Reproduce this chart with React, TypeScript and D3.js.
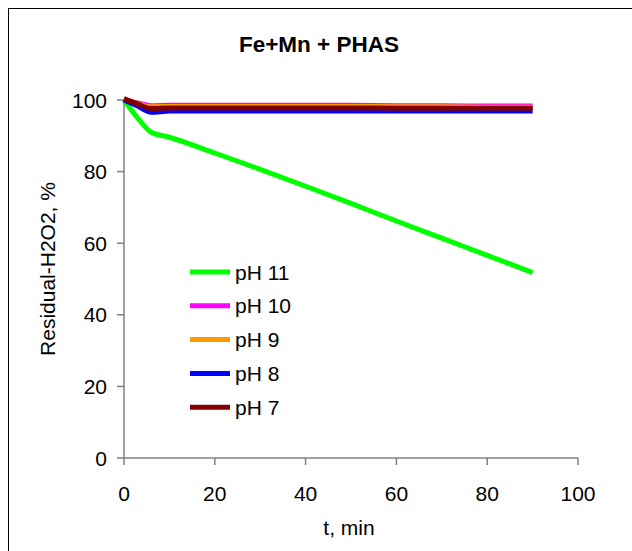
import React, { useEffect } from "react";
import * as d3 from "d3";

const times = [0, 3, 6, 10, 20, 30, 40, 50, 60, 70, 80, 90];
const seriesNames = ["pH 11", "pH 10", "pH 9", "pH 8", "pH 7"];
const seriesColors = ["#00ff00", "#ff00ff", "#ff9900", "#0000ff", "#800000"];
const pH11 = [100, 95, 91, 89.6, 85.2, 80.6, 75.9, 71.1, 66.2, 61.4, 56.6, 51.8];
const pH10 = [100, 99.2, 98.4, 98.5, 98.5, 98.5, 98.5, 98.5, 98.4, 98.4, 98.3, 98.3];
const pH9 = [100, 99, 98.1, 98.2, 98.2, 98.2, 98.2, 98.2, 98.1, 98.1, 98.0, 98.0];
const pH8 = [100, 98.3, 96.6, 96.9, 96.9, 96.9, 96.9, 96.9, 96.9, 96.9, 96.9, 96.9];
const pH7 = [100.4, 98.9, 97.6, 97.8, 97.8, 97.8, 97.8, 97.8, 97.7, 97.7, 97.7, 97.7];
const seriesValues = [pH11, pH10, pH9, pH8, pH7];
const xTicks = [0, 20, 40, 60, 80, 100];
const yTicks = [0, 20, 40, 60, 80, 100];
const title = "Fe+Mn + PHAS";
const xTitle = "t, min";
const yTitle = "Residual-H2O2, %";

export default function App() {
  useEffect(() => {
    document.body.style.margin = "0";
    document.body.style.overflow = "hidden";
  }, []);
  const W = 632, H = 551;
  const x = d3.scaleLinear().domain([0, 100]).range([124, 578]);
  const y = d3.scaleLinear().domain([0, 100]).range([458, 100]);
  const line = d3.line<number>().x((_, i) => x(times[i])).y((d) => y(d)).curve(d3.curveMonotoneX);
  const font = "Arial, 'Liberation Sans', sans-serif";
  const axisColor = "#808080";
  return (
    <svg width={W} height={H} style={{ display: "block" }} fontFamily={font}>
      <rect x={0} y={0} width={W} height={H} fill="#fff" />
      <rect x={8.5} y={8.5} width={W + 20} height={H + 20} fill="none" stroke="#000" strokeWidth={1} />
      <text x={319} y={52} textAnchor="middle" fontSize={22.5} fontWeight="bold">{title}</text>
      {/* y axis */}
      <line x1={x(0)} x2={x(0)} y1={y(100)} y2={y(0)} stroke={axisColor} strokeWidth={1.5} />
      {yTicks.map((t) => (
        <g key={"y" + t}>
          <line x1={x(0) - 7} x2={x(0)} y1={y(t)} y2={y(t)} stroke={axisColor} strokeWidth={1.5} />
          <text x={107} y={y(t)} dy="0.36em" textAnchor="end" fontSize={21}>{t}</text>
        </g>
      ))}
      {/* x axis */}
      <line x1={x(0)} x2={x(100)} y1={y(0)} y2={y(0)} stroke={axisColor} strokeWidth={1.5} />
      {xTicks.map((t) => (
        <g key={"x" + t}>
          <line x1={x(t)} x2={x(t)} y1={y(0)} y2={y(0) + 7} stroke={axisColor} strokeWidth={1.5} />
          <text x={x(t)} y={501} textAnchor="middle" fontSize={21}>{t}</text>
        </g>
      ))}
      <text x={349} y={535} textAnchor="middle" fontSize={21}>{xTitle}</text>
      <text transform={`translate(55,269) rotate(-90)`} textAnchor="middle" fontSize={21}>{yTitle}</text>
      {seriesValues.map((vals, i) => (
        <path key={seriesNames[i]} d={line(vals) || ""} fill="none" stroke={seriesColors[i]} strokeWidth={5} strokeLinejoin="round" />
      ))}
      {seriesNames.map((n, i) => {
        const ly = 272 + i * 33.8;
        return (
          <g key={"lg" + n}>
            <line x1={190} x2={230} y1={ly} y2={ly} stroke={seriesColors[i]} strokeWidth={5} />
            <text x={235} y={ly} dy="0.36em" fontSize={21}>{n}</text>
          </g>
        );
      })}
    </svg>
  );
}
